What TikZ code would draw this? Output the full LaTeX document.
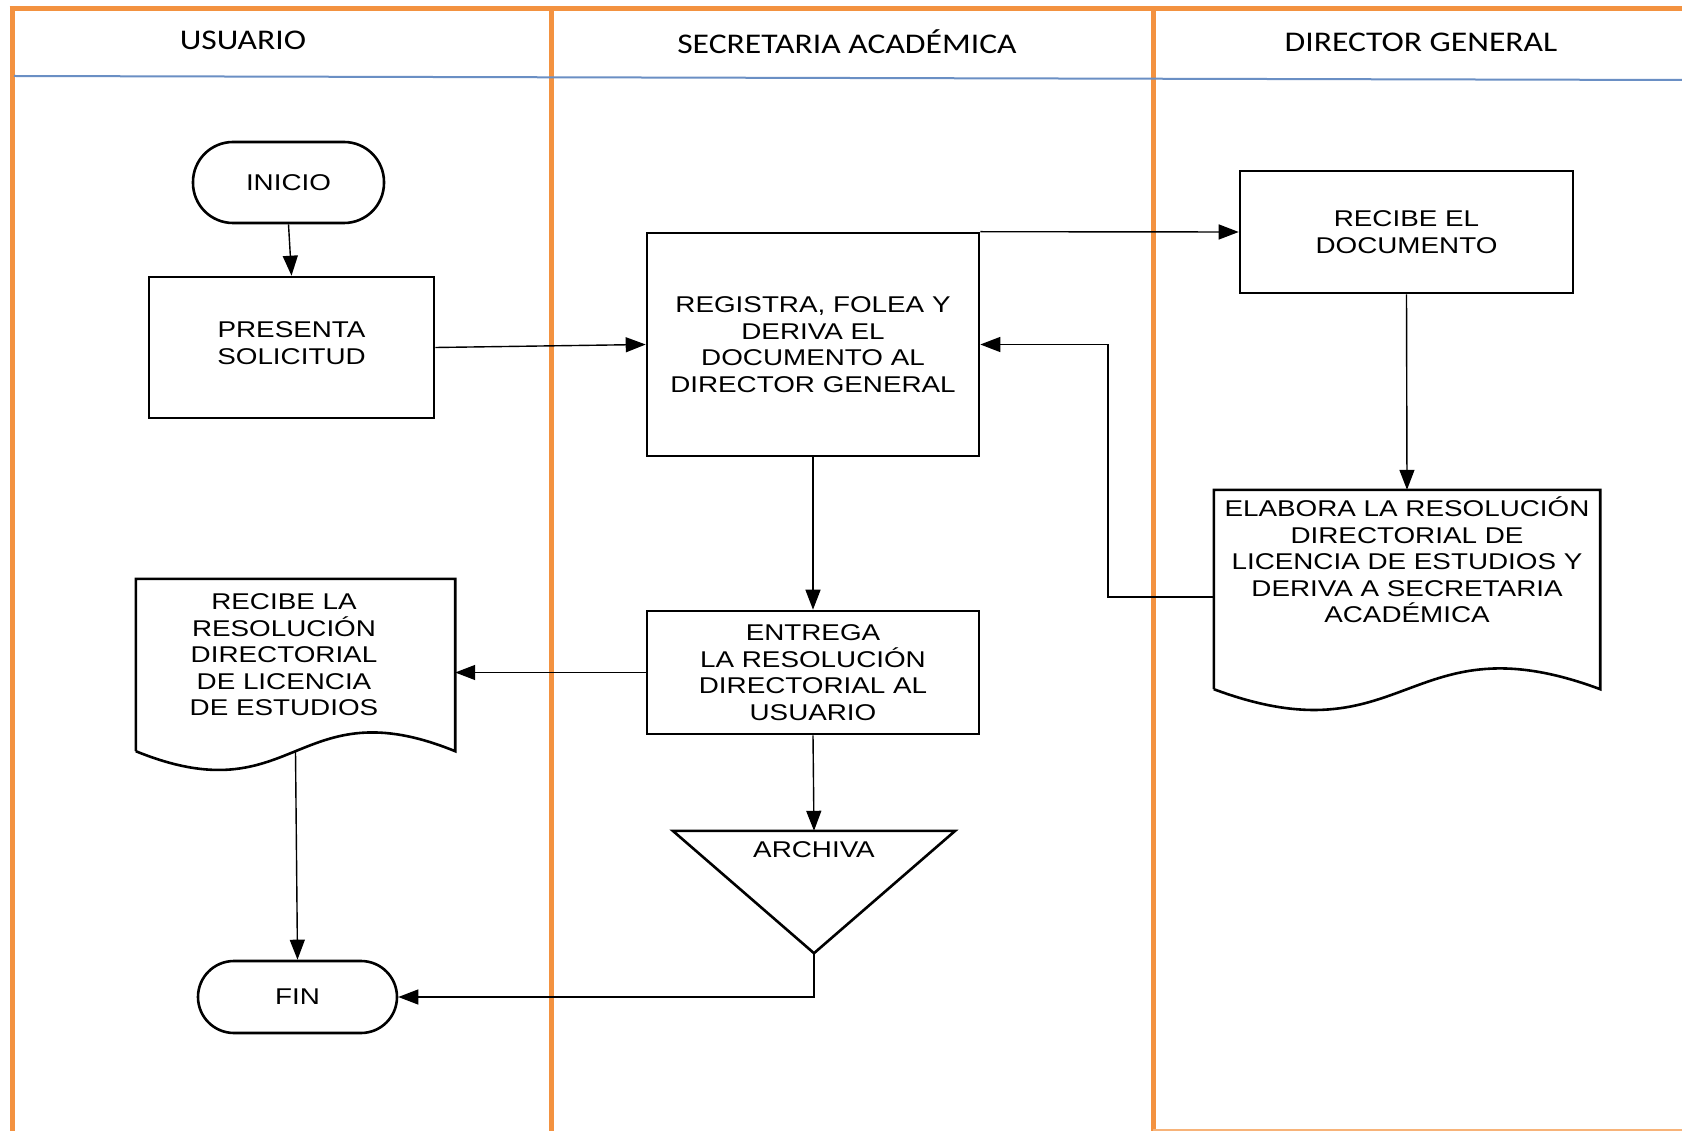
\documentclass[tikz,border=0pt]{standalone}
\usepackage{fontspec}
\setmainfont{Liberation Sans}
\newfontfamily\boxfont[FakeStretch=1.22]{Liberation Sans}
\newfontfamily\headfont[FakeStretch=1.18]{Carlito}
\usetikzlibrary{arrows.meta}
\definecolor{lanecol}{HTML}{F39240}
\definecolor{sepcol}{HTML}{6A8FC4}
\begin{document}
\begin{tikzpicture}[x=1pt,y=-1pt,
  boxtext/.style={align=center, inner sep=0pt, font={\boxfont\fontsize{22.8}{26.5}\selectfont}},
  proc/.style={boxtext, draw, line width=2.6pt},
  shapebox/.style={draw=none, inner sep=0pt},
  outline/.style={line width=2.6pt, line join=miter},
  conn/.style={line width=1.4pt, -{Triangle[length=20pt,width=15pt]}},
  lanel/.style={draw=lanecol, line width=5pt},
  headtext/.style={inner sep=0pt, font={\headfont\fontsize{28.5}{33}\selectfont}}]
\useasboundingbox (0,0) rectangle (1682,1131);
\fill[white] (0,0) rectangle (1682,1131);

% lanes
\draw[lanel] (9.5,9) -- (1682,9);
\draw[lanel] (12,9) -- (12,1131);
\draw[lanel] (551,9) -- (551,1131);
\draw[lanel] (1153,9) -- (1153,1131);
\draw[draw=lanecol!70, line width=2pt] (1153,1130) -- (1682,1130);
\draw[sepcol, line width=2pt] (14,76) -- (1682,80);

\node[headtext] (h1) at (243,40) {USUARIO};
\node[headtext] (h2) at (847,42) {SECRETARIA ACADÉMICA};
\node[headtext] (h3) at (1421,42) {DIRECTOR GENERAL};

% nodes
\node[proc, rounded corners=40pt, minimum width=191pt, minimum height=81pt] (inicio) at (288.5,182.5) {INICIO};
\node[proc, minimum width=285pt, minimum height=141pt] (presenta) at (291.5,347.5) {};
\node[boxtext] (presentat) at (291.5,343) {PRESENTA\\SOLICITUD};
\node[proc, minimum width=332pt, minimum height=223pt] (registra) at (813,344.5) {REGISTRA, FOLEA Y\\DERIVA EL\\DOCUMENTO AL\\DIRECTOR GENERAL};
\node[proc, minimum width=333pt, minimum height=122pt] (recibe) at (1406.5,232) {RECIBE EL\\DOCUMENTO};

\node[shapebox, minimum width=386pt, minimum height=199pt] (elab) at (1407,589.5) {};
\draw[outline] (elab.south west) -- (elab.north west) -- (elab.north east) -- (elab.south east)
  .. controls ([yshift=72pt]elab.south) and ([yshift=-72pt]elab.south) .. (elab.south west);
\node[boxtext] (elabt) at (1407,560) {ELABORA LA RESOLUCIÓN\\DIRECTORIAL DE\\LICENCIA DE ESTUDIOS Y\\DERIVA A SECRETARIA\\ACADÉMICA};

\node[proc, minimum width=332pt, minimum height=123pt] (entrega) at (813,672.5) {ENTREGA\\LA RESOLUCIÓN\\DIRECTORIAL AL\\USUARIO};

\node[shapebox, minimum width=319pt, minimum height=172pt] (recibela) at (295.5,665) {};
\draw[outline] (recibela.south west) -- (recibela.north west) -- (recibela.north east) -- (recibela.south east)
  .. controls ([yshift=65pt]recibela.south) and ([yshift=-65pt]recibela.south) .. (recibela.south west);
\node[boxtext] (recibelat) at (284,655) {RECIBE LA\\RESOLUCIÓN\\DIRECTORIAL\\DE LICENCIA\\DE ESTUDIOS};

\node[shapebox, minimum width=282pt, minimum height=122pt] (archiva) at (814,892) {};
\draw[outline] (archiva.north west) -- (archiva.north east) -- (archiva.south) -- cycle;
\node[boxtext] (archivat) at (814,850) {ARCHIVA};

\node[proc, rounded corners=36pt, minimum width=199pt, minimum height=72pt] (fin) at (297.5,997) {FIN};

% connectors
\draw[conn] (inicio.south) -- (presenta.north);
\draw[conn] (presenta.east) -- (registra.west);
\draw[conn] (registra.north east) -- (recibe.west);
\draw[conn] (recibe.south) -- (elab.north);
\draw[conn] ([yshift=-7.5pt]elab.west) -- ++(-106,0) |- (registra.east);
\draw[conn] (registra.south) -- (entrega.north);
\draw[conn] (entrega.west) -- (entrega.west -| recibela.east);
\draw[conn] (entrega.south) -- (archiva.north);
\draw[conn] (archiva.south) |- (fin.east);
\draw[conn] (recibela.south) -- (fin.north);
\end{tikzpicture}
\end{document}
